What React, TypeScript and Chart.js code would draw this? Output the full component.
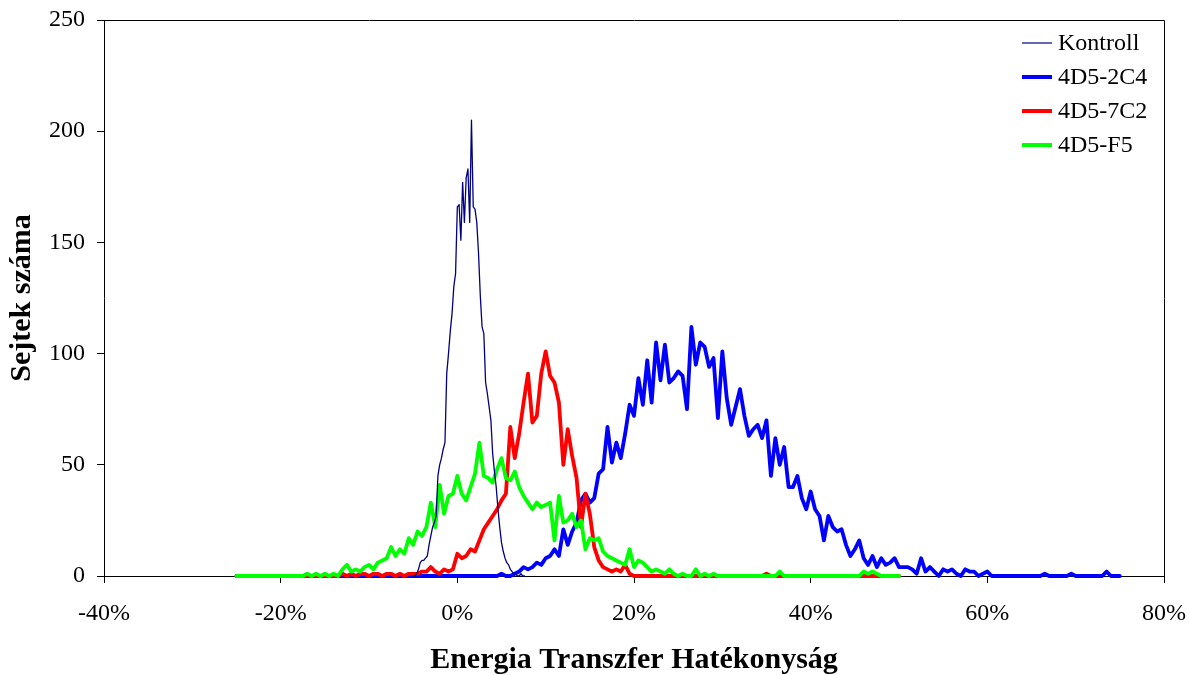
import React, { useEffect, useRef } from "react";
import { Chart, registerables } from "chart.js";

Chart.register(...registerables);

// ---- Series metadata ----
const SERIES_NAMES = ["Kontroll", "4D5-2C4", "4D5-7C2", "4D5-F5"];
const SERIES_COLORS = ["#000080", "#0000FF", "#FF0000", "#00FF00"];
const SERIES_WIDTHS = [1.3, 3.8, 3.8, 3.8];
const LEGEND_WIDTHS = [1.2, 4, 4, 4];
// drawing order (lower = on top)
const SERIES_ORDER = [0, 3, 2, 1];

// ---- Histogram bins (FRET efficiency, %) ----
const KONTROLL_START = -5;
const KONTROLL_STEP = 0.2;
const BIN_START = -25;
const BIN_STEP = 0.5;

// Kontroll: -5.0% .. 7.6%, step 0.2%
const KONTROLL = [
  0, 0, 1, 3, 6, 7, 7, 8, 9, 14,
  18, 22, 24, 27, 45, 50, 53, 57, 60, 91,
  100, 110, 118, 130, 136, 166, 167, 151, 177, 159,
  179, 183, 159, 205, 166, 165, 159, 145, 126, 112,
  109, 87, 82, 76, 70, 55, 47, 40, 30, 22,
  15, 11, 8, 6, 5, 3, 2, 1, 1, 0,
  0, 1, 0, 0,
];

// 4D5-2C4: -25% .. 75%, step 0.5%
const AB_2C4 = [
  0, 0, 0, 0, 0, 0, 0, 0, 0, 0,
  0, 0, 0, 0, 0, 0, 0, 0, 0, 0,
  0, 0, 0, 0, 0, 0, 0, 0, 0, 0,
  0, 0, 0, 0, 0, 0, 0, 0, 0, 0,
  0, 0, 0, 0, 0, 0, 0, 0, 0, 0,
  0, 0, 0, 0, 0, 0, 0, 0, 0, 0,
  1, 0, 0, 1, 2, 4, 3, 4, 6, 5,
  8, 9, 12, 9, 21, 14, 20, 24, 34, 37,
  33, 35, 46, 48, 67, 51, 60, 53, 64, 77,
  72, 89, 77, 97, 78, 105, 88, 104, 87, 89,
  92, 90, 75, 112, 95, 105, 103, 94, 98, 71,
  101, 80, 68, 76, 84, 72, 63, 66, 68, 62,
  70, 45, 62, 50, 58, 40, 40, 45, 35, 30,
  38, 30, 27, 16, 27, 22, 20, 21, 14, 9,
  12, 16, 8, 5, 9, 4, 8, 5, 6, 8,
  4, 4, 4, 3, 1, 8, 2, 4, 2, 0,
  3, 2, 3, 1, 0, 3, 2, 2, 0, 1,
  2, 0, 0, 0, 0, 0, 0, 0, 0, 0,
  0, 0, 0, 1, 0, 0, 0, 0, 0, 1,
  0, 0, 0, 0, 0, 0, 0, 2, 0, 0,
  0,
];

// 4D5-7C2: -25% .. 50%, step 0.5%
const AB_7C2 = [
  0, 0, 0, 0, 0, 0, 0, 0, 0, 0,
  0, 0, 0, 0, 0, 0, 0, 0, 0, 0,
  0, 0, 0, 0, 1, 0, 1, 0, 1, 1,
  0, 1, 1, 0, 1, 1, 0, 1, 0, 1,
  1, 1, 2, 2, 4, 2, 1, 3, 2, 3,
  10, 8, 9, 12, 11, 16, 21, 24, 27, 30,
  34, 37, 67, 53, 64, 78, 91, 69, 72, 91,
  101, 90, 87, 78, 50, 66, 54, 44, 22, 37,
  28, 13, 7, 4, 3, 2, 3, 2, 5, 1,
  0, 0, 0, 0, 0, 0, 0, 0, 0, 0,
  0, 0, 0, 0, 0, 0, 0, 0, 0, 0,
  0, 0, 0, 0, 0, 0, 0, 0, 0, 0,
  1, 0, 0, 0, 0, 0, 0, 0, 0, 0,
  0, 0, 0, 0, 0, 0, 0, 0, 0, 0,
  0, 0, 0, 0, 0, 0, 0, 0, 0, 0,
  0,
];

// 4D5-F5: -25% .. 50%, step 0.5%
const AB_F5 = [
  0, 0, 0, 0, 0, 0, 0, 0, 0, 0,
  0, 0, 0, 0, 0, 0, 1, 0, 1, 0,
  1, 0, 1, 0, 3, 5, 2, 3, 2, 4,
  5, 3, 6, 7, 8, 13, 9, 12, 10, 17,
  14, 20, 18, 22, 33, 22, 41, 28, 36, 37,
  45, 37, 34, 40, 46, 60, 45, 44, 42, 48,
  53, 44, 43, 47, 40, 36, 33, 30, 33, 31,
  32, 33, 16, 36, 24, 25, 28, 22, 25, 12,
  17, 16, 17, 11, 9, 8, 7, 6, 5, 12,
  4, 7, 6, 4, 2, 3, 2, 1, 3, 1,
  0, 1, 0, 0, 3, 0, 1, 0, 1, 0,
  0, 0, 0, 0, 0, 0, 0, 0, 0, 0,
  0, 0, 0, 2, 0, 0, 0, 0, 0, 0,
  0, 0, 0, 0, 0, 0, 0, 0, 0, 0,
  0, 0, 2, 1, 2, 1, 0, 0, 0, 0,
  0,
];

// ---- Axes ----
const X_TICK_VALUES = [-40, -20, 0, 20, 40, 60, 80];
const X_TICK_LABELS = ["-40%", "-20%", "0%", "20%", "40%", "60%", "80%"];
const Y_TICK_VALUES = [0, 50, 100, 150, 200, 250];
const Y_TICK_LABELS = ["0", "50", "100", "150", "200", "250"];
const X_TITLE = "Energia Transzfer Hatékonyság";
const Y_TITLE = "Sejtek száma";

const SERIF = "'Liberation Serif', 'Times New Roman', Times, serif";

function toPoints(values: number[], start: number, step: number) {
  return values.map((y, i) => ({ x: +(start + i * step).toFixed(2), y }));
}

const frameAndLegend = {
  id: "frameAndLegend",
  afterDraw(chart: any) {
    const { ctx, chartArea } = chart;
    const { top, right } = chartArea;
    ctx.save();
    // plot-area frame (top and right sides)
    ctx.strokeStyle = "#000";
    ctx.lineWidth = 1;
    ctx.beginPath();
    const L = Math.round(chartArea.left) + 0.5;
    const T = Math.round(top) + 0.5;
    const R = Math.round(right) + 0.5;
    const B = Math.round(chartArea.bottom) + 0.5;
    ctx.moveTo(L, T);
    ctx.lineTo(R, T);
    ctx.lineTo(R, B);
    ctx.stroke();

    // legend inside the plot area
    ctx.font = `24px ${SERIF}`;
    ctx.textBaseline = "middle";
    ctx.textAlign = "left";
    SERIES_NAMES.forEach((name, i) => {
      const y = top + 23 + i * 34;
      ctx.strokeStyle = SERIES_COLORS[i];
      ctx.lineWidth = LEGEND_WIDTHS[i];
      ctx.beginPath();
      ctx.moveTo(right - 142, y);
      ctx.lineTo(right - 112, y);
      ctx.stroke();
      ctx.fillStyle = "#000";
      ctx.fillText(name, right - 106, y + 1);
    });
    ctx.restore();
  },
};

export default function App() {
  const canvasRef = useRef<HTMLCanvasElement | null>(null);

  useEffect(() => {
    const canvas = canvasRef.current;
    if (!canvas) return;
    const seriesData = [
      toPoints(KONTROLL, KONTROLL_START, KONTROLL_STEP),
      toPoints(AB_2C4, BIN_START, BIN_STEP),
      toPoints(AB_7C2, BIN_START, BIN_STEP),
      toPoints(AB_F5, BIN_START, BIN_STEP),
    ];
    const chart = new Chart(canvas, {
      type: "line",
      data: {
        datasets: SERIES_NAMES.map((name, i) => ({
          label: name,
          data: seriesData[i],
          borderColor: SERIES_COLORS[i],
          backgroundColor: SERIES_COLORS[i],
          borderWidth: SERIES_WIDTHS[i],
          pointRadius: 0,
          pointHoverRadius: 0,
          tension: 0,
          fill: false,
          borderJoinStyle: "round",
          borderCapStyle: "round",
          clip: false,
          order: SERIES_ORDER[i],
        })),
      },
      options: {
        responsive: false,
        animation: false,
        events: [],
        layout: { padding: { left: 0, right: 26, top: 20, bottom: 0 } },
        plugins: {
          legend: { display: false },
          tooltip: { enabled: false },
          title: { display: false },
        },
        scales: {
          x: {
            type: "linear",
            position: "bottom",
            min: -40,
            max: 80,
            afterFit: (s: any) => {
              s.height = 99;
              s.paddingLeft = 0;
              s.paddingRight = 0;
            },
            afterBuildTicks: (s: any) => {
              s.ticks = X_TICK_VALUES.map((v) => ({ value: v }));
            },
            ticks: {
              color: "#000",
              font: { family: SERIF, size: 24 },
              padding: 16,
              maxRotation: 0,
              autoSkip: false,
              callback: (v: any) => {
                const i = X_TICK_VALUES.indexOf(Number(v));
                return i >= 0 ? X_TICK_LABELS[i] : "";
              },
            },
            grid: {
              display: true,
              drawOnChartArea: false,
              drawTicks: true,
              tickLength: 7,
              color: "#000",
              tickColor: "#000",
            },
            border: { display: true, color: "#000", width: 1 },
            title: {
              display: true,
              text: X_TITLE,
              color: "#000",
              font: { family: SERIF, size: 30, weight: "bold", lineHeight: 1.0 },
              padding: { top: 0, bottom: 0 },
            },
          },
          y: {
            type: "linear",
            min: 0,
            max: 250,
            afterFit: (s: any) => {
              s.width = 104;
              s.paddingTop = 0;
              s.paddingBottom = 0;
            },
            afterBuildTicks: (s: any) => {
              s.ticks = Y_TICK_VALUES.map((v) => ({ value: v }));
            },
            ticks: {
              color: "#000",
              font: { family: SERIF, size: 24 },
              padding: 12,
              autoSkip: false,
              callback: (v: any) => {
                const i = Y_TICK_VALUES.indexOf(Number(v));
                return i >= 0 ? Y_TICK_LABELS[i] : "";
              },
            },
            grid: {
              display: true,
              drawOnChartArea: false,
              drawTicks: true,
              tickLength: 7,
              color: "#000",
              tickColor: "#000",
            },
            border: { display: true, color: "#000", width: 1 },
            title: {
              display: true,
              text: Y_TITLE,
              color: "#000",
              font: { family: SERIF, size: 30, weight: "bold" },
              padding: { top: 4, bottom: 0 },
            },
          },
        },
      },
      plugins: [frameAndLegend],
    } as any);
    return () => chart.destroy();
  }, []);

  return (
    <canvas
      ref={canvasRef}
      width={1190}
      height={675}
      style={{ position: "absolute", left: 0, top: 0, display: "block", background: "#fff" }}
    />
  );
}
